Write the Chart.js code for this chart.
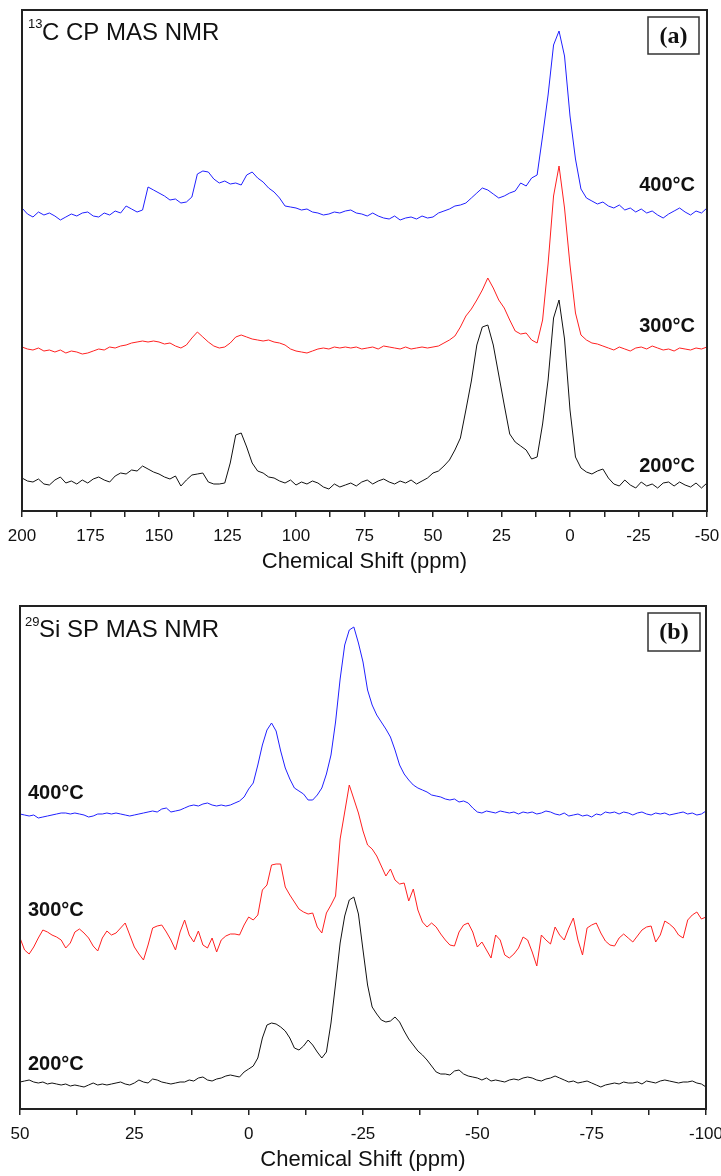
<!DOCTYPE html>
<html>
<head>
<meta charset="utf-8">
<script src="https://cdn.jsdelivr.net/npm/chart.js@4.4.1/dist/chart.umd.min.js"></script>
<style>
  body { margin: 0; background: #fff; }
  canvas { position: absolute; left: 0; }
  #chartA { top: 0; }
  #chartB { top: 590px; }
</style>
</head>
<body>
<canvas id="chartA" width="721" height="590"></canvas>
<canvas id="chartB" width="721" height="586"></canvas>
<script>
// ---- panel (a): 13C CP MAS NMR, shift in ppm (200 -> -50, every 2 ppm) ----
const shiftA = [200,198,196,194,192,190,188,186,184,182,180,178,176,174,172,170,168,166,164,162,
  160,158,156,154,152,150,148,146,144,142,140,138,136,134,132,130,128,126,124,122,
  120,118,116,114,112,110,108,106,104,102,100,98,96,94,92,90,88,86,84,82,
  80,78,76,74,72,70,68,66,64,62,60,58,56,54,52,50,48,46,44,42,
  40,38,36,34,32,30,28,26,24,22,20,18,16,14,12,10,8,6,4,2,
  0,-2,-4,-6,-8,-10,-12,-14,-16,-18,-20,-22,-24,-26,-28,-30,-32,-34,-36,-38,
  -40,-42,-44,-46,-48,-50];

// intensities (arbitrary units, offset stacked as in the figure)
const a400 = [303,297,294,299,296,298,295,291,294,297,
  295,298,299,295,294,298,296,300,298,305,
  302,299,301,324,321,318,315,311,312,308,
  309,314,337,340,339,332,328,330,327,328,
  326,336,339,333,329,323,319,313,305,304,
  303,301,302,299,298,296,297,299,298,300,
  301,298,297,295,298,295,293,292,295,291,
  293,294,292,295,293,294,298,300,302,305,
  306,308,313,318,323,321,317,313,315,318,
  320,328,325,333,336,375,416,466,480,455,
  395,352,322,313,310,307,309,305,303,306,
  301,303,299,302,298,300,296,293,297,300,
  303,299,296,300,298,303];

const a300 = [164,162,161,163,160,161,159,161,158,160,
  159,157,158,160,162,161,164,163,165,166,
  168,169,170,169,170,169,167,168,165,163,
  166,173,179,174,169,165,163,164,168,174,
  176,174,172,171,170,171,169,168,166,162,
  160,159,158,160,162,163,162,164,163,164,
  163,164,162,163,164,162,165,164,163,162,
  164,162,163,164,163,164,165,168,171,175,
  184,195,202,211,221,233,223,211,203,191,
  180,177,178,171,168,191,247,315,345,303,
  246,198,176,171,168,167,165,163,161,164,
  162,160,163,164,162,165,163,161,162,160,
  163,162,161,163,162,164];

const a200 = [33,30,29,32,27,26,31,34,28,30,
  27,31,28,32,34,31,29,35,38,37,
  41,40,45,42,39,37,34,32,35,25,
  31,36,37,38,29,27,27,28,48,76,
  78,64,48,40,38,34,33,30,28,31,
  26,29,27,30,28,24,22,27,24,26,
  28,25,29,31,27,30,32,29,27,30,
  28,31,27,30,33,38,40,45,51,61,
  73,101,130,166,184,186,166,136,106,77,
  69,65,61,52,54,87,131,193,211,172,
  101,54,43,39,37,40,42,33,27,25,
  31,26,23,29,25,27,23,28,29,25,
  29,26,24,28,23,28];

// ---- panel (b): 29Si SP MAS NMR, shift in ppm (50 -> -100, every 1 ppm) ----
const shiftB = [50,49,48,47,46,45,44,43,42,41,40,39,38,37,36,35,34,33,32,31,
  30,29,28,27,26,25,24,23,22,21,20,19,18,17,16,15,14,13,12,11,
  10,9,8,7,6,5,4,3,2,1,0,-1,-2,-3,-4,-5,-6,-7,-8,-9,
  -10,-11,-12,-13,-14,-15,-16,-17,-18,-19,-20,-21,-22,-23,-24,-25,-26,-27,-28,-29,
  -30,-31,-32,-33,-34,-35,-36,-37,-38,-39,-40,-41,-42,-43,-44,-45,-46,-47,-48,-49,
  -50,-51,-52,-53,-54,-55,-56,-57,-58,-59,-60,-61,-62,-63,-64,-65,-66,-67,-68,-69,
  -70,-71,-72,-73,-74,-75,-76,-77,-78,-79,-80,-81,-82,-83,-84,-85,-86,-87,-88,-89,
  -90,-91,-92,-93,-94,-95,-96,-97,-98,-99,-100];

const b400 = [295,294,293,294,291,292,293,294,295,296,
  296,295,296,295,294,292,293,295,295,296,
  295,296,295,294,293,294,295,296,297,298,
  297,300,301,297,298,299,301,303,304,303,
  305,306,304,303,304,303,304,306,308,312,
  320,326,344,364,379,386,378,358,341,330,
  321,318,315,309,309,314,321,335,354,387,
  430,464,479,482,466,447,419,404,394,387,
  380,372,359,344,335,329,324,321,319,317,
  314,313,312,310,309,310,307,308,306,301,
  297,296,298,297,296,298,297,296,297,295,
  297,296,297,295,296,298,297,295,294,296,
  293,294,295,293,294,292,295,294,297,296,
  297,295,297,296,294,296,297,295,294,296,
  295,296,294,295,296,297,295,296,294,295,
  298];

const b300 = [171,159,155,162,171,179,177,174,172,169,
  161,166,177,180,176,171,163,158,171,178,
  174,176,181,186,174,162,155,149,164,181,
  183,184,177,169,159,177,189,174,167,178,
  164,161,171,157,169,173,175,175,174,184,
  192,189,194,219,224,244,245,245,222,214,
  207,200,197,195,196,182,176,196,204,213,
  270,297,324,310,296,278,264,260,253,243,
  233,240,229,225,226,208,220,199,187,182,
  186,182,175,169,164,163,177,184,186,177,
  162,167,159,151,174,169,154,151,155,161,
  172,169,157,143,174,169,165,182,174,169,
  181,191,169,154,181,184,186,176,168,164,
  163,171,175,171,167,173,179,182,183,167,
  174,188,185,181,174,171,189,194,197,190,
  192];

const b200 = [27,28,29,27,26,27,25,26,25,24,
  25,23,24,23,22,24,26,24,25,24,
  25,26,27,25,24,26,29,27,26,30,
  29,27,26,25,26,27,27,29,28,31,
  32,29,28,30,31,33,34,33,32,37,
  40,43,51,71,84,86,85,82,78,71,
  61,59,63,69,64,57,51,57,86,125,
  166,193,209,212,195,159,124,102,95,89,
  87,88,92,87,78,70,64,58,54,49,
  43,37,35,35,34,38,39,35,33,32,
  31,29,31,28,29,28,27,29,30,29,
  31,32,31,29,28,30,31,33,31,29,
  27,28,26,27,28,26,24,22,24,25,
  26,25,27,26,26,27,25,28,27,26,
  28,29,28,27,26,27,27,28,26,25,
  22];

const tempLabels = ['400°C', '300°C', '200°C'];
const SANS = '"Liberation Sans", Arial, sans-serif';

function series(values, color) {
  return { data: values, borderColor: color, borderWidth: 1, pointRadius: 0, tension: 0, fill: false };
}

// frame, panel title, (a)/(b) box and temperature labels
function decor(opts) {
  return {
    id: 'decor',
    afterDraw(chart) {
      const ctx = chart.ctx;
      const a = chart.chartArea;
      ctx.save();
      ctx.strokeStyle = '#222';
      ctx.lineWidth = 2;
      ctx.strokeRect(a.left, a.top, a.right - a.left, a.bottom - a.top);

      ctx.fillStyle = '#111';
      ctx.textAlign = 'left';
      ctx.textBaseline = 'alphabetic';
      ctx.font = '13px ' + SANS;
      ctx.fillText(opts.sup, opts.supX, opts.supY);
      ctx.font = '24px ' + SANS;
      ctx.fillText(opts.title, opts.titleX, opts.titleY);

      ctx.lineWidth = 1.5;
      ctx.strokeStyle = '#333';
      const b = opts.box;
      ctx.strokeRect(b[0], b[1], b[2], b[3]);
      ctx.font = 'bold 24px "Liberation Serif", "Times New Roman", serif';
      ctx.textAlign = 'center';
      ctx.textBaseline = 'middle';
      ctx.fillText(opts.tag, b[0] + b[2] / 2, b[1] + b[3] / 2 + 1);

      ctx.font = 'bold 20px ' + SANS;
      ctx.textAlign = opts.labelAlign;
      tempLabels.forEach((t, i) => ctx.fillText(t, opts.labelX, opts.labelY[i]));
      ctx.restore();
    }
  };
}

function xAxis(min, max, height, titlePad) {
  return {
    type: 'linear', min: min, max: max, reverse: true,
    afterFit(s) { s.height = height; s.paddingLeft = 0; s.paddingRight = 0; },
    ticks: {
      stepSize: 12.5, autoSkip: false, maxRotation: 0, padding: 9, color: '#111',
      font: { family: SANS, size: 17 },
      callback: v => (v % 25 === 0 ? String(v) : '')
    },
    grid: { drawOnChartArea: false, tickLength: 6, color: '#222', lineWidth: 1.5 },
    border: { color: '#222', width: 2 },
    title: { display: true, text: 'Chemical Shift (ppm)', color: '#111',
      font: { family: SANS, size: 22 }, padding: { top: 0, bottom: titlePad } }
  };
}

new Chart(document.getElementById('chartA'), {
  type: 'line',
  data: {
    labels: shiftA,
    datasets: [series(a200, '#111'), series(a300, '#ff2020'), series(a400, '#2020ff')]
  },
  options: {
    responsive: false, animation: false,
    layout: { padding: { left: 22, right: 14, top: 10, bottom: 0 } },
    plugins: { legend: { display: false }, tooltip: { enabled: false } },
    scales: {
      x: xAxis(-50, 200, 79, 15),
      y: { display: false, min: 0, max: 501 }
    }
  },
  plugins: [decor({
    sup: '13', supX: 28, supY: 28, title: 'C CP MAS NMR', titleX: 42, titleY: 40,
    box: [648, 17, 51, 37], tag: '(a)',
    labelAlign: 'right', labelX: 695, labelY: [185, 326, 466]
  })]
});

new Chart(document.getElementById('chartB'), {
  type: 'line',
  data: {
    labels: shiftB,
    datasets: [series(b200, '#111'), series(b300, '#ff2020'), series(b400, '#2020ff')]
  },
  options: {
    responsive: false, animation: false,
    layout: { padding: { left: 20, right: 15, top: 16, bottom: 0 } },
    plugins: { legend: { display: false }, tooltip: { enabled: false } },
    scales: {
      x: xAxis(-100, 50, 67, 3),
      y: { display: false, min: 0, max: 503 }
    }
  },
  plugins: [decor({
    sup: '29', supX: 25, supY: 36, title: 'Si SP MAS NMR', titleX: 39, titleY: 47,
    box: [648, 23, 52, 38], tag: '(b)',
    labelAlign: 'left', labelX: 28, labelY: [203, 320, 474]
  })]
});
</script>
</body>
</html>
